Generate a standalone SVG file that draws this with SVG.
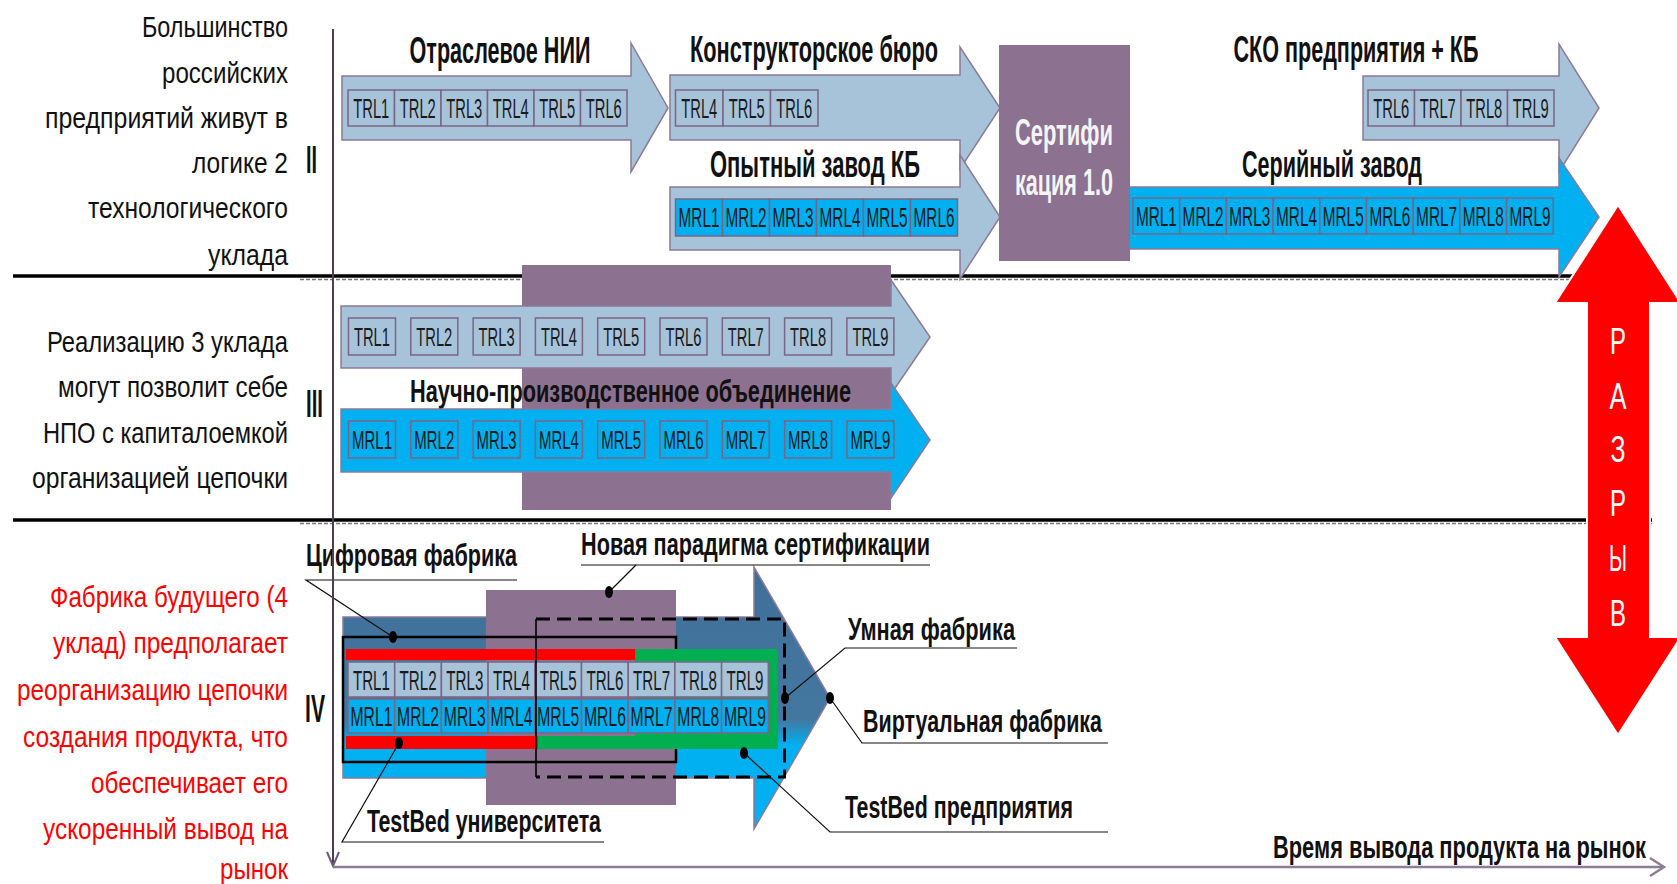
<svg xmlns="http://www.w3.org/2000/svg" width="1677" height="884" viewBox="0 0 1677 884">
<defs>
<style>
.arL{fill:#A7C3DA;stroke:#8B7A98;stroke-width:1.5}
.arB{fill:#00B0F0;stroke:#8B7A98;stroke-width:1.5}
.pur{fill:#8C7190}
.cT{fill:#A7C3DA;stroke:#7B6585;stroke-width:1.5}
.cM{fill:#00B0F0;stroke:#7B6585;stroke-width:1.5}
.ct{font-family:"Liberation Sans",Arial,sans-serif;font-size:27px;fill:#1a1a1a;text-anchor:middle}
.ct3{font-family:"Liberation Sans",Arial,sans-serif;font-size:25px;fill:#1a1a1a;text-anchor:middle}
.ttl{font-family:"Liberation Sans",Arial,sans-serif;font-weight:bold;font-size:37px;fill:#111;text-anchor:middle}
.co{font-family:"Liberation Sans",Arial,sans-serif;font-weight:bold;font-size:32px;fill:#111}
.lt{font-family:"Liberation Sans",Arial,sans-serif;font-size:30px;fill:#111;text-anchor:end}
.red{fill:#FF0000}
.rn{font-family:"Liberation Sans",Arial,sans-serif;font-weight:bold;font-size:38px;fill:#111}
.lead{stroke:#111;stroke-width:1.2;fill:none}
.dot{fill:#000}
.sep{stroke:#000;stroke-width:3.5}
.sepd{stroke:#777;stroke-width:1.5;stroke-dasharray:4 2}
.rz{font-family:"Liberation Sans",Arial,sans-serif;font-size:36px;fill:#fff;text-anchor:middle}
</style>
<linearGradient id="g4" x1="0" y1="0" x2="0" y2="1">
<stop offset="0" stop-color="#3F6F98"/>
<stop offset="0.58" stop-color="#4477A0"/>
<stop offset="0.68" stop-color="#00B0F0"/>
<stop offset="1" stop-color="#00B0F0"/>
</linearGradient>
</defs>
<rect width="1677" height="884" fill="#fff"/>

<g id="separators">
<line class="sep" x1="13" y1="276" x2="1600" y2="276"/>
<line class="sepd" x1="300" y1="279.5" x2="1600" y2="279.5"/>
<line class="sep" x1="13" y1="520" x2="1652" y2="520"/>
<line class="sepd" x1="300" y1="523.5" x2="1652" y2="523.5"/>
</g>

<g id="left-labels">
<text class="lt" x="288" y="37" textLength="146" lengthAdjust="spacingAndGlyphs">Большинство</text>
<text class="lt" x="288" y="83" textLength="126" lengthAdjust="spacingAndGlyphs">российских</text>
<text class="lt" x="288" y="128" textLength="243" lengthAdjust="spacingAndGlyphs">предприятий живут в</text>
<text class="lt" x="288" y="173" textLength="96" lengthAdjust="spacingAndGlyphs">логике 2</text>
<text class="lt" x="288" y="218" textLength="200" lengthAdjust="spacingAndGlyphs">технологического</text>
<text class="lt" x="288" y="265" textLength="80" lengthAdjust="spacingAndGlyphs">уклада</text>
<text class="rn" x="306" y="173" textLength="11" lengthAdjust="spacingAndGlyphs">II</text>

<text class="lt" x="288" y="352" textLength="241" lengthAdjust="spacingAndGlyphs">Реализацию 3 уклада</text>
<text class="lt" x="288" y="397" textLength="230" lengthAdjust="spacingAndGlyphs">могут позволит себе</text>
<text class="lt" x="288" y="443" textLength="245" lengthAdjust="spacingAndGlyphs">НПО с капиталоемкой</text>
<text class="lt" x="288" y="488" textLength="256" lengthAdjust="spacingAndGlyphs">организацией цепочки</text>
<text class="rn" x="306" y="417" textLength="17" lengthAdjust="spacingAndGlyphs">III</text>

<text class="lt red" x="288" y="607" textLength="238" lengthAdjust="spacingAndGlyphs">Фабрика будущего (4</text>
<text class="lt red" x="288" y="653" textLength="235" lengthAdjust="spacingAndGlyphs">уклад) предполагает</text>
<text class="lt red" x="288" y="700" textLength="271" lengthAdjust="spacingAndGlyphs">реорганизацию цепочки</text>
<text class="lt red" x="288" y="747" textLength="265" lengthAdjust="spacingAndGlyphs">создания продукта, что</text>
<text class="lt red" x="288" y="793" textLength="197" lengthAdjust="spacingAndGlyphs">обеспечивает его</text>
<text class="lt red" x="288" y="839" textLength="245" lengthAdjust="spacingAndGlyphs">ускоренный вывод на</text>
<text class="lt red" x="288" y="879" textLength="68" lengthAdjust="spacingAndGlyphs">рынок</text>
<text class="rn" x="305" y="722" textLength="20" lengthAdjust="spacingAndGlyphs">IV</text>
</g>

<g id="nii">
<polygon class="arL" points="342,76 631,76 631,43 668,108 631,172 631,140 342,140"/>
<rect class="cT" x="348" y="90" width="46.5" height="36"/>
<rect class="cT" x="394.5" y="90" width="46.5" height="36"/>
<rect class="cT" x="441" y="90" width="46.5" height="36"/>
<rect class="cT" x="487.5" y="90" width="46.5" height="36"/>
<rect class="cT" x="534" y="90" width="46.5" height="36"/>
<rect class="cT" x="580.5" y="90" width="46.5" height="36"/>
<text class="ct" x="371.3" y="118" textLength="36" lengthAdjust="spacingAndGlyphs">TRL1</text>
<text class="ct" x="417.8" y="118" textLength="36" lengthAdjust="spacingAndGlyphs">TRL2</text>
<text class="ct" x="464.3" y="118" textLength="36" lengthAdjust="spacingAndGlyphs">TRL3</text>
<text class="ct" x="510.8" y="118" textLength="36" lengthAdjust="spacingAndGlyphs">TRL4</text>
<text class="ct" x="557.3" y="118" textLength="36" lengthAdjust="spacingAndGlyphs">TRL5</text>
<text class="ct" x="603.8" y="118" textLength="36" lengthAdjust="spacingAndGlyphs">TRL6</text>
<text class="ttl" x="500" y="63" textLength="181" lengthAdjust="spacingAndGlyphs">Отраслевое НИИ</text>
</g>

<g id="kb">
<polygon class="arL" points="670,75 960,75 960,47 1000,108 960,169 960,140 670,140"/>
<rect class="cT" x="675.5" y="90" width="47.5" height="36"/>
<rect class="cT" x="723" y="90" width="47.5" height="36"/>
<rect class="cT" x="770.5" y="90" width="47.5" height="36"/>
<text class="ct" x="699.3" y="118" textLength="36" lengthAdjust="spacingAndGlyphs">TRL4</text>
<text class="ct" x="746.8" y="118" textLength="36" lengthAdjust="spacingAndGlyphs">TRL5</text>
<text class="ct" x="794.3" y="118" textLength="36" lengthAdjust="spacingAndGlyphs">TRL6</text>
<text class="ttl" x="814" y="62" textLength="248" lengthAdjust="spacingAndGlyphs">Конструкторское бюро</text>
</g>

<g id="pilot-plant">
<polygon class="arL" points="670,187 960,187 960,155 1000,217 960,279 960,250 670,250"/>
<rect class="cM" x="675.5" y="199" width="47" height="37"/>
<rect class="cM" x="722.5" y="199" width="47" height="37"/>
<rect class="cM" x="769.5" y="199" width="47" height="37"/>
<rect class="cM" x="816.5" y="199" width="47" height="37"/>
<rect class="cM" x="863.5" y="199" width="47" height="37"/>
<rect class="cM" x="910.5" y="199" width="47" height="37"/>
<text class="ct" x="699" y="227" textLength="41" lengthAdjust="spacingAndGlyphs">MRL1</text>
<text class="ct" x="746" y="227" textLength="41" lengthAdjust="spacingAndGlyphs">MRL2</text>
<text class="ct" x="793" y="227" textLength="41" lengthAdjust="spacingAndGlyphs">MRL3</text>
<text class="ct" x="840" y="227" textLength="41" lengthAdjust="spacingAndGlyphs">MRL4</text>
<text class="ct" x="887" y="227" textLength="41" lengthAdjust="spacingAndGlyphs">MRL5</text>
<text class="ct" x="934" y="227" textLength="41" lengthAdjust="spacingAndGlyphs">MRL6</text>
<text class="ttl" x="815" y="177" textLength="210" lengthAdjust="spacingAndGlyphs">Опытный завод КБ</text>
</g>

<g id="sko">
<polygon class="arL" points="1363,76 1559,76 1559,44 1599,108 1559,172 1559,140 1363,140"/>
<rect class="cT" x="1368" y="90" width="46.5" height="36"/>
<rect class="cT" x="1414.5" y="90" width="46.5" height="36"/>
<rect class="cT" x="1461" y="90" width="46.5" height="36"/>
<rect class="cT" x="1507.5" y="90" width="46.5" height="36"/>
<text class="ct" x="1391.3" y="118" textLength="36" lengthAdjust="spacingAndGlyphs">TRL6</text>
<text class="ct" x="1437.8" y="118" textLength="36" lengthAdjust="spacingAndGlyphs">TRL7</text>
<text class="ct" x="1484.3" y="118" textLength="36" lengthAdjust="spacingAndGlyphs">TRL8</text>
<text class="ct" x="1530.8" y="118" textLength="36" lengthAdjust="spacingAndGlyphs">TRL9</text>
<text class="ttl" x="1356" y="62" textLength="245" lengthAdjust="spacingAndGlyphs">СКО предприятия + КБ</text>
</g>

<g id="serial-plant">
<polygon class="arB" points="1110,187 1559,187 1559,158 1599,217 1559,277 1559,249 1110,249"/>
<rect class="cM" x="1133" y="198" width="46.7" height="36"/>
<rect class="cM" x="1179.7" y="198" width="46.7" height="36"/>
<rect class="cM" x="1226.4" y="198" width="46.7" height="36"/>
<rect class="cM" x="1273.1" y="198" width="46.7" height="36"/>
<rect class="cM" x="1319.8" y="198" width="46.7" height="36"/>
<rect class="cM" x="1366.5" y="198" width="46.7" height="36"/>
<rect class="cM" x="1413.2" y="198" width="46.7" height="36"/>
<rect class="cM" x="1459.9" y="198" width="46.7" height="36"/>
<rect class="cM" x="1506.6" y="198" width="46.7" height="36"/>
<text class="ct" x="1156.4" y="226" textLength="41" lengthAdjust="spacingAndGlyphs">MRL1</text>
<text class="ct" x="1203.1" y="226" textLength="41" lengthAdjust="spacingAndGlyphs">MRL2</text>
<text class="ct" x="1249.8" y="226" textLength="41" lengthAdjust="spacingAndGlyphs">MRL3</text>
<text class="ct" x="1296.5" y="226" textLength="41" lengthAdjust="spacingAndGlyphs">MRL4</text>
<text class="ct" x="1343.2" y="226" textLength="41" lengthAdjust="spacingAndGlyphs">MRL5</text>
<text class="ct" x="1389.9" y="226" textLength="41" lengthAdjust="spacingAndGlyphs">MRL6</text>
<text class="ct" x="1436.6" y="226" textLength="41" lengthAdjust="spacingAndGlyphs">MRL7</text>
<text class="ct" x="1483.3" y="226" textLength="41" lengthAdjust="spacingAndGlyphs">MRL8</text>
<text class="ct" x="1530" y="226" textLength="41" lengthAdjust="spacingAndGlyphs">MRL9</text>
<text class="ttl" x="1332" y="177" textLength="180" lengthAdjust="spacingAndGlyphs">Серийный завод</text>
</g>

<g id="certification">
<rect class="pur" x="999" y="45" width="131" height="216"/>
<text x="1064" y="145" font-family="Liberation Sans, Arial, sans-serif" font-weight="bold" font-size="36" fill="#F4F4F4" text-anchor="middle" textLength="98" lengthAdjust="spacingAndGlyphs">Сертифи</text>
<text x="1064" y="195" font-family="Liberation Sans, Arial, sans-serif" font-weight="bold" font-size="36" fill="#F4F4F4" text-anchor="middle" textLength="98" lengthAdjust="spacingAndGlyphs">кация 1.0</text>
</g>

<g id="npo">
<rect class="pur" x="522" y="265" width="369" height="245"/>
<polygon class="arL" points="341,306 891,306 891,280 930,337 891,394 891,368 341,368"/>
<rect class="cT" x="348.5" y="318" width="47" height="37"/>
<rect class="cT" x="410.8" y="318" width="47" height="37"/>
<rect class="cT" x="473.1" y="318" width="47" height="37"/>
<rect class="cT" x="535.4" y="318" width="47" height="37"/>
<rect class="cT" x="597.7" y="318" width="47" height="37"/>
<rect class="cT" x="660" y="318" width="47" height="37"/>
<rect class="cT" x="722.3" y="318" width="47" height="37"/>
<rect class="cT" x="784.6" y="318" width="47" height="37"/>
<rect class="cT" x="846.9" y="318" width="47" height="37"/>
<text class="ct3" x="372" y="345.5" textLength="36" lengthAdjust="spacingAndGlyphs">TRL1</text>
<text class="ct3" x="434.3" y="345.5" textLength="36" lengthAdjust="spacingAndGlyphs">TRL2</text>
<text class="ct3" x="496.6" y="345.5" textLength="36" lengthAdjust="spacingAndGlyphs">TRL3</text>
<text class="ct3" x="558.9" y="345.5" textLength="36" lengthAdjust="spacingAndGlyphs">TRL4</text>
<text class="ct3" x="621.2" y="345.5" textLength="36" lengthAdjust="spacingAndGlyphs">TRL5</text>
<text class="ct3" x="683.5" y="345.5" textLength="36" lengthAdjust="spacingAndGlyphs">TRL6</text>
<text class="ct3" x="745.8" y="345.5" textLength="36" lengthAdjust="spacingAndGlyphs">TRL7</text>
<text class="ct3" x="808.1" y="345.5" textLength="36" lengthAdjust="spacingAndGlyphs">TRL8</text>
<text class="ct3" x="870.4" y="345.5" textLength="36" lengthAdjust="spacingAndGlyphs">TRL9</text>
<text class="co" x="630.5" y="402" text-anchor="middle" font-size="33" textLength="441" lengthAdjust="spacingAndGlyphs">Научно-производственное объединение</text>
<polygon class="arB" points="341,409 891,409 891,383 930,440 891,498 891,472 341,472"/>
<rect class="cM" x="348.5" y="421" width="47" height="37"/>
<rect class="cM" x="410.8" y="421" width="47" height="37"/>
<rect class="cM" x="473.1" y="421" width="47" height="37"/>
<rect class="cM" x="535.4" y="421" width="47" height="37"/>
<rect class="cM" x="597.7" y="421" width="47" height="37"/>
<rect class="cM" x="660" y="421" width="47" height="37"/>
<rect class="cM" x="722.3" y="421" width="47" height="37"/>
<rect class="cM" x="784.6" y="421" width="47" height="37"/>
<rect class="cM" x="846.9" y="421" width="47" height="37"/>
<text class="ct3" x="372" y="448.5" textLength="40" lengthAdjust="spacingAndGlyphs">MRL1</text>
<text class="ct3" x="434.3" y="448.5" textLength="40" lengthAdjust="spacingAndGlyphs">MRL2</text>
<text class="ct3" x="496.6" y="448.5" textLength="40" lengthAdjust="spacingAndGlyphs">MRL3</text>
<text class="ct3" x="558.9" y="448.5" textLength="40" lengthAdjust="spacingAndGlyphs">MRL4</text>
<text class="ct3" x="621.2" y="448.5" textLength="40" lengthAdjust="spacingAndGlyphs">MRL5</text>
<text class="ct3" x="683.5" y="448.5" textLength="40" lengthAdjust="spacingAndGlyphs">MRL6</text>
<text class="ct3" x="745.8" y="448.5" textLength="40" lengthAdjust="spacingAndGlyphs">MRL7</text>
<text class="ct3" x="808.1" y="448.5" textLength="40" lengthAdjust="spacingAndGlyphs">MRL8</text>
<text class="ct3" x="870.4" y="448.5" textLength="40" lengthAdjust="spacingAndGlyphs">MRL9</text>
</g>

<g id="factory-future">
<polygon points="343,617 754,617 754,567 830,698 754,829 754,778 343,778" fill="url(#g4)" stroke="#8B7A98" stroke-width="1.5"/>
<rect class="pur" x="486" y="590" width="190" height="215"/>
<rect x="343" y="637" width="333" height="125" fill="none" stroke="#000" stroke-width="2.5"/>
<rect x="635" y="649" width="143" height="100" fill="#00B050"/>
<rect x="538" y="736" width="97" height="13" fill="#00B050"/>
<rect x="346" y="649" width="289" height="11" fill="#FF0000"/>
<rect x="346" y="736" width="192" height="13" fill="#FF0000"/>
<rect class="cT" x="348" y="662" width="46.7" height="35"/>
<rect class="cT" x="394.7" y="662" width="46.7" height="35"/>
<rect class="cT" x="441.4" y="662" width="46.7" height="35"/>
<rect class="cT" x="488.1" y="662" width="46.7" height="35"/>
<rect class="cT" x="534.8" y="662" width="46.7" height="35"/>
<rect class="cT" x="581.5" y="662" width="46.7" height="35"/>
<rect class="cT" x="628.2" y="662" width="46.7" height="35"/>
<rect class="cT" x="674.9" y="662" width="46.7" height="35"/>
<rect class="cT" x="721.6" y="662" width="46.7" height="35"/>
<rect class="cM" x="348" y="699" width="46.7" height="34"/>
<rect class="cM" x="394.7" y="699" width="46.7" height="34"/>
<rect class="cM" x="441.4" y="699" width="46.7" height="34"/>
<rect class="cM" x="488.1" y="699" width="46.7" height="34"/>
<rect class="cM" x="534.8" y="699" width="46.7" height="34"/>
<rect class="cM" x="581.5" y="699" width="46.7" height="34"/>
<rect class="cM" x="628.2" y="699" width="46.7" height="34"/>
<rect class="cM" x="674.9" y="699" width="46.7" height="34"/>
<rect class="cM" x="721.6" y="699" width="46.7" height="34"/>
<text class="ct" x="371.4" y="689.5" textLength="37" lengthAdjust="spacingAndGlyphs">TRL1</text>
<text class="ct" x="418.1" y="689.5" textLength="37" lengthAdjust="spacingAndGlyphs">TRL2</text>
<text class="ct" x="464.8" y="689.5" textLength="37" lengthAdjust="spacingAndGlyphs">TRL3</text>
<text class="ct" x="511.5" y="689.5" textLength="37" lengthAdjust="spacingAndGlyphs">TRL4</text>
<text class="ct" x="558.2" y="689.5" textLength="37" lengthAdjust="spacingAndGlyphs">TRL5</text>
<text class="ct" x="604.9" y="689.5" textLength="37" lengthAdjust="spacingAndGlyphs">TRL6</text>
<text class="ct" x="651.6" y="689.5" textLength="37" lengthAdjust="spacingAndGlyphs">TRL7</text>
<text class="ct" x="698.3" y="689.5" textLength="37" lengthAdjust="spacingAndGlyphs">TRL8</text>
<text class="ct" x="745" y="689.5" textLength="37" lengthAdjust="spacingAndGlyphs">TRL9</text>
<text class="ct" x="371.4" y="726" textLength="42" lengthAdjust="spacingAndGlyphs">MRL1</text>
<text class="ct" x="418.1" y="726" textLength="42" lengthAdjust="spacingAndGlyphs">MRL2</text>
<text class="ct" x="464.8" y="726" textLength="42" lengthAdjust="spacingAndGlyphs">MRL3</text>
<text class="ct" x="511.5" y="726" textLength="42" lengthAdjust="spacingAndGlyphs">MRL4</text>
<text class="ct" x="558.2" y="726" textLength="42" lengthAdjust="spacingAndGlyphs">MRL5</text>
<text class="ct" x="604.9" y="726" textLength="42" lengthAdjust="spacingAndGlyphs">MRL6</text>
<text class="ct" x="651.6" y="726" textLength="42" lengthAdjust="spacingAndGlyphs">MRL7</text>
<text class="ct" x="698.3" y="726" textLength="42" lengthAdjust="spacingAndGlyphs">MRL8</text>
<text class="ct" x="745" y="726" textLength="42" lengthAdjust="spacingAndGlyphs">MRL9</text>
<line x1="536" y1="619" x2="536" y2="777" stroke="#000" stroke-width="1.6"/>
<polyline points="536,619 784.5,619 784.5,777 536,777" fill="none" stroke="#000" stroke-width="3" stroke-dasharray="14 7"/>
</g>

<g id="callout-labels">
<text class="co" x="306" y="566" textLength="211" lengthAdjust="spacingAndGlyphs">Цифровая фабрика</text>
<text class="co" x="581" y="555" textLength="349" lengthAdjust="spacingAndGlyphs">Новая парадигма сертификации</text>
<text class="co" x="848" y="640" textLength="167" lengthAdjust="spacingAndGlyphs">Умная фабрика</text>
<text class="co" x="863" y="732" textLength="239" lengthAdjust="spacingAndGlyphs">Виртуальная фабрика</text>
<text class="co" x="845" y="818" textLength="228" lengthAdjust="spacingAndGlyphs">TestBed предприятия</text>
<text class="co" x="367" y="832" textLength="234" lengthAdjust="spacingAndGlyphs">TestBed университета</text>
<text class="co" x="1646" y="858" text-anchor="end" textLength="373" lengthAdjust="spacingAndGlyphs">Время вывода продукта на рынок</text>
</g>

<g id="gap-arrow">
<polygon points="1618,205 1681,303 1650,303 1650,637 1681,637 1618,735 1555,637 1587,637 1587,303 1555,303" fill="#FF0000" stroke="#fff" stroke-width="2"/>
<text class="rz" x="1618" y="354" textLength="16" lengthAdjust="spacingAndGlyphs">Р</text>
<text class="rz" x="1618" y="409" textLength="17" lengthAdjust="spacingAndGlyphs">А</text>
<text class="rz" x="1618" y="462" textLength="15" lengthAdjust="spacingAndGlyphs">З</text>
<text class="rz" x="1618" y="516" textLength="16" lengthAdjust="spacingAndGlyphs">Р</text>
<text class="rz" x="1618" y="571" textLength="18" lengthAdjust="spacingAndGlyphs">Ы</text>
<text class="rz" x="1618" y="626" textLength="16" lengthAdjust="spacingAndGlyphs">В</text>
</g>

<g id="connectors">
<polyline class="lead" points="517,580 306,580 393,637"/>
<polyline class="lead" points="930,565 581,565"/>
<line class="lead" x1="636" y1="565" x2="609" y2="592"/>
<polyline class="lead" points="1017,648 845,648 785,698"/>
<polyline class="lead" points="1108,743 862,743 830,698"/>
<polyline class="lead" points="1108,832 830,832 744,753"/>
<polyline class="lead" points="604,842 342,842 399,743"/>
<ellipse class="dot" cx="393" cy="637" rx="4" ry="6"/>
<ellipse class="dot" cx="609" cy="592" rx="4" ry="6"/>
<ellipse class="dot" cx="785" cy="698" rx="4" ry="6"/>
<ellipse class="dot" cx="830" cy="698" rx="4" ry="6"/>
<ellipse class="dot" cx="744" cy="753" rx="4" ry="6"/>
<ellipse class="dot" cx="399" cy="743" rx="4" ry="6"/>
<line x1="333" y1="29" x2="333" y2="866" stroke="#4a3f55" stroke-width="2"/>
<polyline points="327,852 333,866 339,852" fill="none" stroke="#6b5a78" stroke-width="2"/>
<line x1="333" y1="867" x2="1662" y2="867" stroke="#8d7d96" stroke-width="2.5"/>
<polyline points="1650,858 1664,867 1650,876" fill="none" stroke="#8d7d96" stroke-width="2.5"/>
</g>
</svg>
